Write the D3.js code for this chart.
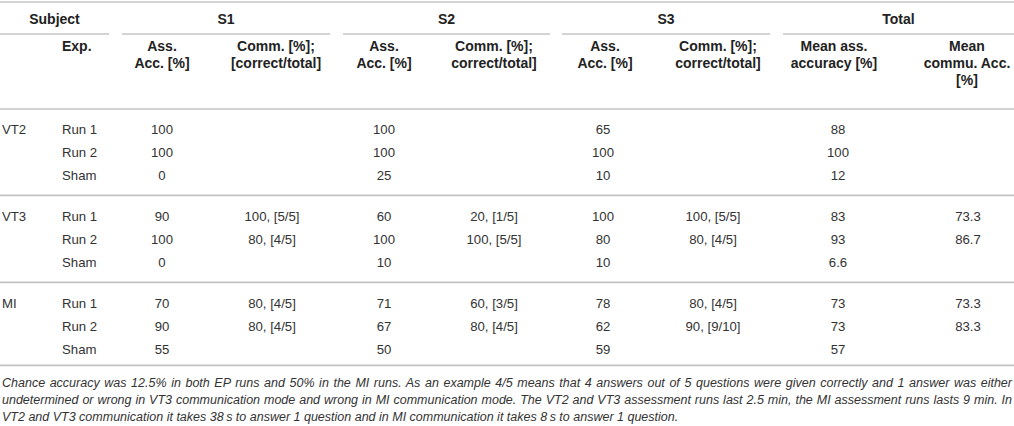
<!DOCTYPE html>
<html>
<head>
<meta charset="utf-8">
<script src="https://cdn.jsdelivr.net/npm/d3@7"></script>
<style>
  body { margin: 0; background: #fff; }
  svg { display: block; font-family: "Liberation Sans", Arial, sans-serif; }
</style>
</head>
<body>
<svg id="chart" width="1014" height="426"></svg>
<script>
// table content
var groups = ["VT2", "VT3", "MI"];
var exps = ["Run 1", "Run 2", "Sham"];
var s1Ass = ["100", "100", "0", "90", "100", "0", "70", "90", "55"];
var s1Comm = ["", "", "", "100, [5/5]", "80, [4/5]", "", "80, [4/5]", "80, [4/5]", ""];
var s2Ass = ["100", "100", "25", "60", "100", "10", "71", "67", "50"];
var s2Comm = ["", "", "", "20, [1/5]", "100, [5/5]", "", "60, [3/5]", "80, [4/5]", ""];
var s3Ass = ["65", "100", "10", "100", "80", "10", "78", "62", "59"];
var s3Comm = ["", "", "", "100, [5/5]", "80, [4/5]", "", "80, [4/5]", "90, [9/10]", ""];
var meanAss = ["88", "100", "12", "83", "93", "6.6", "73", "73", "57"];
var meanComm = ["", "", "", "73.3", "86.7", "", "73.3", "83.3", ""];

var topGroups = ["Subject", "S1", "S2", "S3", "Total"];
var subHeads = [
  ["Exp."],
  ["Ass.", "Acc. [%]"], ["Comm. [%];", "[correct/total]"],
  ["Ass.", "Acc. [%]"], ["Comm. [%];", "correct/total]"],
  ["Ass.", "Acc. [%]"], ["Comm. [%];", "correct/total]"],
  ["Mean ass.", "accuracy [%]"], ["Mean", "commu. Acc.", "[%]"]
];
var notes = [
  "Chance accuracy was 12.5% in both EP runs and 50% in the MI runs. As an example 4/5 means that 4 answers out of 5 questions were given correctly and 1 answer was either",
  "undetermined or wrong in VT3 communication mode and wrong in MI communication mode. The VT2 and VT3 assessment runs last 2.5 min, the MI assessment runs lasts 9 min. In",
  "VT2 and VT3 communication it takes 38\u2009s to answer 1 question and in MI communication it takes 8\u2009s to answer 1 question."
];

var valueCols = [s1Ass, s1Comm, s2Ass, s2Comm, s3Ass, s3Comm, meanAss, meanComm];

var svg = d3.select("#chart");
var W = 1014;
var lineCol = "#c4c4c4", txtCol = "#333", headCol = "#222";

// column layout
var groupSpan = d3.scaleOrdinal().domain(topGroups)
  .range([[0, 109], [122, 330], [343, 550], [562, 770], [783, 1014]]);
var headX = [62, 162, 276, 384, 494, 605, 718, 834, 967];
var valX = [162, 272, 384, 494, 603, 713, 838, 968];

// rows
var yGroup = d3.scaleLinear().domain([0, 1]).range([129, 216]);
var yRow = d3.scaleLinear().domain([0, 1]).range([0, 23.2]);
function rowY(i) { return yGroup(Math.floor(i / 3)) + yRow(i % 3); }

function hline(y, x1, x2) {
  svg.append("line").attr("x1", x1).attr("x2", x2).attr("y1", y).attr("y2", y)
    .attr("stroke", lineCol).attr("stroke-width", 1.6);
}

hline(2, 0, W);
hline(109, 0, W);
hline(rowY(2) + 20, 0, W);
hline(rowY(5) + 20, 0, W);
hline(rowY(8) + 16, 0, W);

// top header
topGroups.forEach(function(g) {
  var s = groupSpan(g);
  svg.append("text").attr("x", (s[0] + s[1]) / 2).attr("y", 24)
    .attr("text-anchor", "middle").attr("font-weight", "bold").attr("font-size", 14)
    .attr("fill", headCol).text(g);
  hline(34, s[0], s[1]);
});

// sub headers
subHeads.forEach(function(lines, c) {
  lines.forEach(function(t, k) {
    svg.append("text").attr("x", headX[c]).attr("y", 51 + k * 17)
      .attr("text-anchor", c === 0 ? "start" : "middle")
      .attr("font-weight", "bold").attr("font-size", 14).attr("fill", headCol).text(t);
  });
});

// body
var body = svg.append("g").attr("font-size", 13.2).attr("fill", txtCol);
d3.range(9).forEach(function(i) {
  var y = rowY(i) + 4.7;
  if (i % 3 === 0) body.append("text").attr("x", 2).attr("y", y).text(groups[i / 3]);
  body.append("text").attr("x", 62).attr("y", y).text(exps[i % 3]);
  valueCols.forEach(function(col, c) {
    if (col[i]) body.append("text").attr("x", valX[c]).attr("y", y)
      .attr("text-anchor", "middle").text(col[i]);
  });
});

// footnote, first two lines justified
var noteG = svg.append("g").attr("font-size", 12.5).attr("font-style", "italic").attr("fill", txtCol);
notes.forEach(function(t, k) {
  var tx = noteG.append("text").attr("x", 2).attr("y", 386.5 + k * 17).text(t);
  if (k < 2) {
    var len = tx.node().getComputedTextLength();
    var spaces = t.split(" ").length - 1;
    tx.attr("word-spacing", (1010 - len) / spaces);
  }
});
</script>
</body>
</html>
